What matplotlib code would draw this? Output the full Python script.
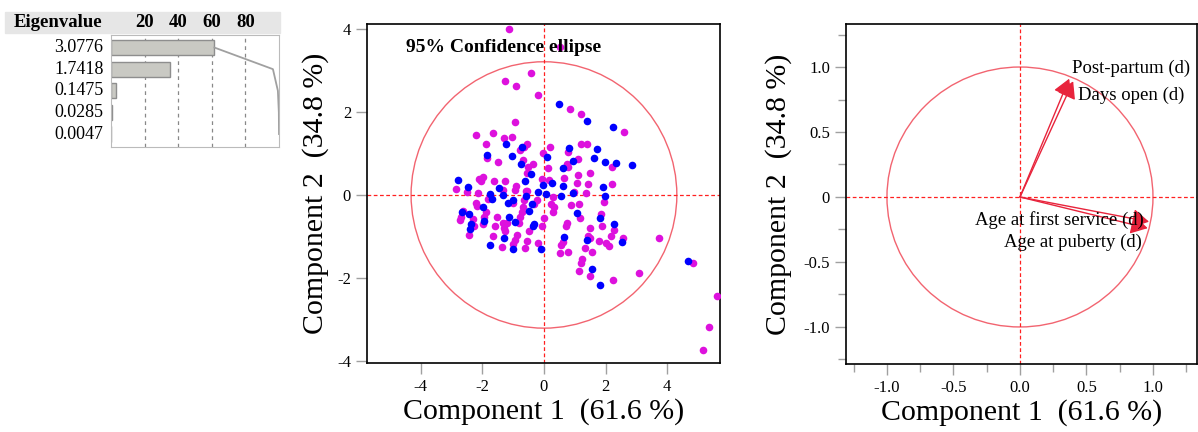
import matplotlib
matplotlib.use("Agg")
import matplotlib.pyplot as plt
from matplotlib.patches import Ellipse, Rectangle

plt.rcParams['font.family'] = ['Liberation Serif', 'DejaVu Serif']
plt.rcParams['axes.unicode_minus'] = False

# eigenvalue table
eigenvalues = [3.0776, 1.7418, 0.1475, 0.0285, 0.0047]
eig_percent = [61.55, 34.84, 2.95, 0.57, 0.09]
eig_cum = [61.55, 96.39, 99.34, 99.91, 100.0]
eig_ticks = [20, 40, 60, 80]

# score plot (component 1, component 2)
mag_x = [-1.12, 0.52, -0.42, -1.25, -0.91, -0.20, 0.85, 1.20, -0.94, 2.60,
         -2.19, -1.65, -1.31, -1.05, -1.88, -0.55, -0.65, -0.78, 0.19, 1.21,
         1.38, 0.77, -1.84, -0.02, 1.09, 2.20, -1.48, -0.69, -0.51, -0.35,
         0.14, 0.74, 0.79, -0.55, 1.11, 1.49, -2.10, -1.99, -2.04, -1.63,
         -1.25, -0.07, 0.15, 0.66, 1.06, 1.44, 2.20, -2.85, -2.51, -1.32,
         -0.91, -0.94, -0.56, -2.13, 0.28, 0.98, 1.35, 1.94, -1.81, -1.01,
         -0.65, -0.58, -0.24, -0.31, -0.67, -0.72, -0.78, 0.23, 0.32, 0.30,
         0.88, 1.14, 1.17, 1.84, 0.01, -0.06, 0.74, 0.70, 1.48, 1.89,
         2.27, 2.18, 2.57, 1.42, 1.49, 1.77, 2.00, 2.12, 3.73, 0.61,
         0.55, 0.52, 0.77, 1.33, 1.55, 1.22, 1.20, 1.14, 1.49, 2.24,
         3.07, 4.82, 5.60, 5.36, 5.16, -2.64, -2.69, -2.72, -2.31, -2.26,
         -2.44, -2.21, -2.18, -1.88, -1.94, -1.97, -1.52, -1.59, -1.34, -1.30,
         -1.26, -1.21, -0.80, -1.66, -1.37, -0.88, -0.94, -1.00, -0.61, -0.56,
         -0.48, -0.18]
mag_y = [3.99, 3.57, 2.95, 2.75, 2.63, 2.41, 2.07, 1.96, 1.76, 1.51,
         1.45, 1.49, 1.37, 1.40, 1.22, 1.22, 1.15, 1.08, 1.16, 1.22,
         1.22, 1.04, 0.90, 1.00, 0.87, 0.68, 0.80, 0.84, 0.68, 0.74,
         0.64, 0.75, 0.68, 0.52, 0.48, 0.54, 0.39, 0.44, 0.34, 0.34,
         0.34, 0.39, 0.36, 0.40, 0.30, 0.26, 0.26, 0.14, 0.08, 0.12,
         0.22, 0.12, 0.10, 0.04, -0.04, 0.07, 0.04, -0.16, -0.10, -0.20,
         -0.12, 0.09, -0.12, -0.22, -0.28, -0.40, -0.52, -0.22, -0.28, -0.40,
         -0.24, -0.23, -0.56, -0.47, -0.55, -0.76, -0.67, -0.76, -0.79, -0.75,
         -0.84, -1.00, -1.03, -0.99, -1.04, -1.10, -1.16, -1.22, -1.04, -1.13,
         -1.20, -1.39, -1.37, -1.28, -1.37, -1.55, -1.63, -1.83, -1.95, -2.06,
         -1.88, -1.63, -2.43, -3.18, -3.74, -0.38, -0.52, -0.60, -0.59, -0.75,
         -0.96, -0.20, -0.27, -0.40, -0.52, -0.71, -0.52, -0.75, -0.68, -0.80,
         -0.88, -0.67, -0.68, -1.00, -1.26, -0.96, -1.08, -1.18, -1.28, -1.11,
         -0.86, -1.15]
blue_x = [0.50, 1.38, 2.25, -1.23, -0.72, 0.80, 1.71, -1.84, -1.03, 0.10,
          0.93, 1.63, 1.99, 2.34, 2.84, -0.75, 0.63, -0.43, -2.79, -0.62,
          0.25, -0.02, 0.63, 1.92, -2.46, -1.45, -0.18, -1.75, -1.34, 0.06,
          0.55, 0.95, 1.99, -1.68, -1.18, -1.00, -0.58, -0.40, -0.48, 1.06,
          1.82, 2.28, 2.54, 1.38, 0.65, 1.55, 1.82, 4.68, -2.65, -2.42,
          -2.37, -2.40, -1.97, -1.94, -1.14, -0.94, -1.30, -1.75, -1.00, -0.32,
          -0.35, -0.10]
blue_y = [2.19, 1.79, 1.63, 1.22, 1.16, 1.14, 1.11, 0.97, 0.94, 0.92,
          0.82, 0.90, 0.80, 0.78, 0.72, 0.74, 0.66, 0.51, 0.35, 0.34,
          0.28, 0.24, 0.22, 0.20, 0.19, 0.16, 0.08, 0.02, 0.00, 0.02,
          -0.03, 0.04, -0.03, -0.10, -0.19, -0.12, -0.02, -0.22, -0.39, -0.44,
          -0.56, -0.70, -1.13, -1.08, -1.02, -1.79, -2.17, -1.59, -0.42, -0.46,
          -0.70, -0.83, -0.28, -0.63, -0.53, -0.66, -1.04, -1.20, -1.30, -0.70,
          -0.76, -1.31]
ellipse_w = 8.62
ellipse_h = 6.42

# loading plot
var_names = ["Post-partum (d)", "Days open (d)",
             "Age at first service (d)", "Age at puberty (d)"]
load_x = [0.37, 0.40, 0.97, 0.96]
load_y = [0.91, 0.89, -0.19, -0.24]

W, H = 1198, 432
fig = plt.figure(figsize=(W / 100, H / 100), dpi=100)


def box(l, t, r, b):
    return [l / W, 1 - b / H, (r - l) / W, (b - t) / H]


red = '#FF2020'
soft_red = '#F26470'
arrow_red = '#E8243C'

# ---- eigenvalue table ----
fig.patches.append(Rectangle((5 / W, 1 - 33 / H), 275 / W, 21 / H,
                             transform=fig.transFigure, color='#E6E6E6', zorder=-5))
fig.text(58 / W, 1 - 22.5 / H, "Eigenvalue", fontsize=13.5, fontweight='bold',
         ha='center', va='center')

ax0 = fig.add_axes(box(111, 35, 279, 147))
rows = list(range(len(eigenvalues)))
ax0.barh(rows, eig_percent, height=0.7, color='#C9C9C3', edgecolor='#8E8E8E', lw=1)
ax0.plot(eig_cum, rows, color='#A0A0A0', lw=1.3)
for t in eig_ticks:
    ax0.axvline(t, color='#888888', lw=0.9, ls=(0, (3, 3)), zorder=0)
ax0.set_xlim(0, 100)
ax0.set_ylim(4.6, -0.58)
ax0.xaxis.tick_top()
ax0.set_xticks(eig_ticks)
ax0.set_xticklabels([str(t) for t in eig_ticks], fontsize=13.5, fontweight='bold')
ax0.tick_params(axis='x', top=True, labeltop=True, length=0, pad=3)
ax0.set_yticks([])
for s in ax0.spines.values():
    s.set_color('#BBBBBB')
for r, v in zip(rows, eigenvalues):
    ax0.text(-0.045, r, f"{v:.4f}", transform=ax0.get_yaxis_transform(),
             ha='right', va='center', fontsize=13)

# ---- score plot ----
ax1 = fig.add_axes(box(367, 24, 720, 363))
ax1.scatter(mag_x, mag_y, s=30, color='#DD11DD', lw=0, zorder=3)
ax1.scatter(blue_x, blue_y, s=30, color='#0000FF', lw=0, zorder=3)
ax1.add_patch(Ellipse((0, 0), ellipse_w, ellipse_h, fill=False,
                      edgecolor=soft_red, lw=1))
ax1.axhline(0, color=red, lw=0.9, ls=(0, (3, 2)))
ax1.axvline(0, color=red, lw=0.9, ls=(0, (3, 2)))
ax1.set_xlim(-5.74, 5.71)
ax1.set_ylim(-4.05, 4.12)
ax1.set_xticks([-4, -2, 0, 2, 4])
ax1.set_yticks([-4, -2, 0, 2, 4])
ax1.text(0.11, 0.932, "95% Confidence ellipse", transform=ax1.transAxes,
         fontsize=14, fontweight='bold', va='center')
ax1.set_xlabel("Component 1  (61.6 %)", fontsize=21.5, labelpad=2)
ax1.set_ylabel("Component 2  (34.8 %)", fontsize=21.5, labelpad=6)

# ---- loading plot ----
ax2 = fig.add_axes(box(846, 24, 1197, 364))
ax2.add_patch(Ellipse((0, 0), 2, 2, fill=False, edgecolor=soft_red, lw=1))
ax2.axhline(0, color=red, lw=0.9, ls=(0, (3, 2)))
ax2.axvline(0, color=red, lw=0.9, ls=(0, (3, 2)))
for lx, ly in zip(load_x, load_y):
    ax2.annotate('', xy=(lx, ly), xytext=(0, 0),
                 arrowprops=dict(arrowstyle='-|>,head_length=0.6,head_width=0.35',
                                 color=arrow_red, lw=1,
                                 mutation_scale=17, shrinkA=0, shrinkB=0))
ax2.text(load_x[0] + 0.02, load_y[0] + 0.08, var_names[0], fontsize=13.5,
         ha='left', va='center')
ax2.text(load_x[1] + 0.04, load_y[1] - 0.11, var_names[1], fontsize=13.5,
         ha='left', va='center')
ax2.text(load_x[2] - 0.04, load_y[2] + 0.01, var_names[2], fontsize=13.5,
         ha='right', va='center')
ax2.text(load_x[3] - 0.04, load_y[3] - 0.11, var_names[3], fontsize=13.5,
         ha='right', va='center')
ax2.set_xlim(-1.308, 1.331)
ax2.set_ylim(-1.285, 1.331)
ax2.set_xticks([-1.0, -0.5, 0.0, 0.5, 1.0])
ax2.set_xticklabels(["-1.0", "-0.5", "0.0", "0.5", "1.0"])
ax2.set_yticks([-1.0, -0.5, 0.0, 0.5, 1.0])
ax2.set_yticklabels(["-1.0", "-0.5", "0", "0.5", "1.0"])
ax2.set_xticks([-1.25, -0.75, -0.25, 0.25, 0.75, 1.25], minor=True)
ax2.set_yticks([-1.25, -0.75, -0.25, 0.25, 0.75, 1.25], minor=True)
ax2.set_xlabel("Component 1  (61.6 %)", fontsize=21.5, labelpad=2)
ax2.set_ylabel("Component 2  (34.8 %)", fontsize=21.5, labelpad=8)

for ax in (ax1, ax2):
    ax.tick_params(which='both', direction='out', color='#A0A0A0',
                   labelsize=12, width=1)
    ax.tick_params(which='major', length=8)
    ax.tick_params(which='minor', length=6)
    for s in ax.spines.values():
        s.set_linewidth(1.2)

fig.savefig("out.png", dpi=100)
